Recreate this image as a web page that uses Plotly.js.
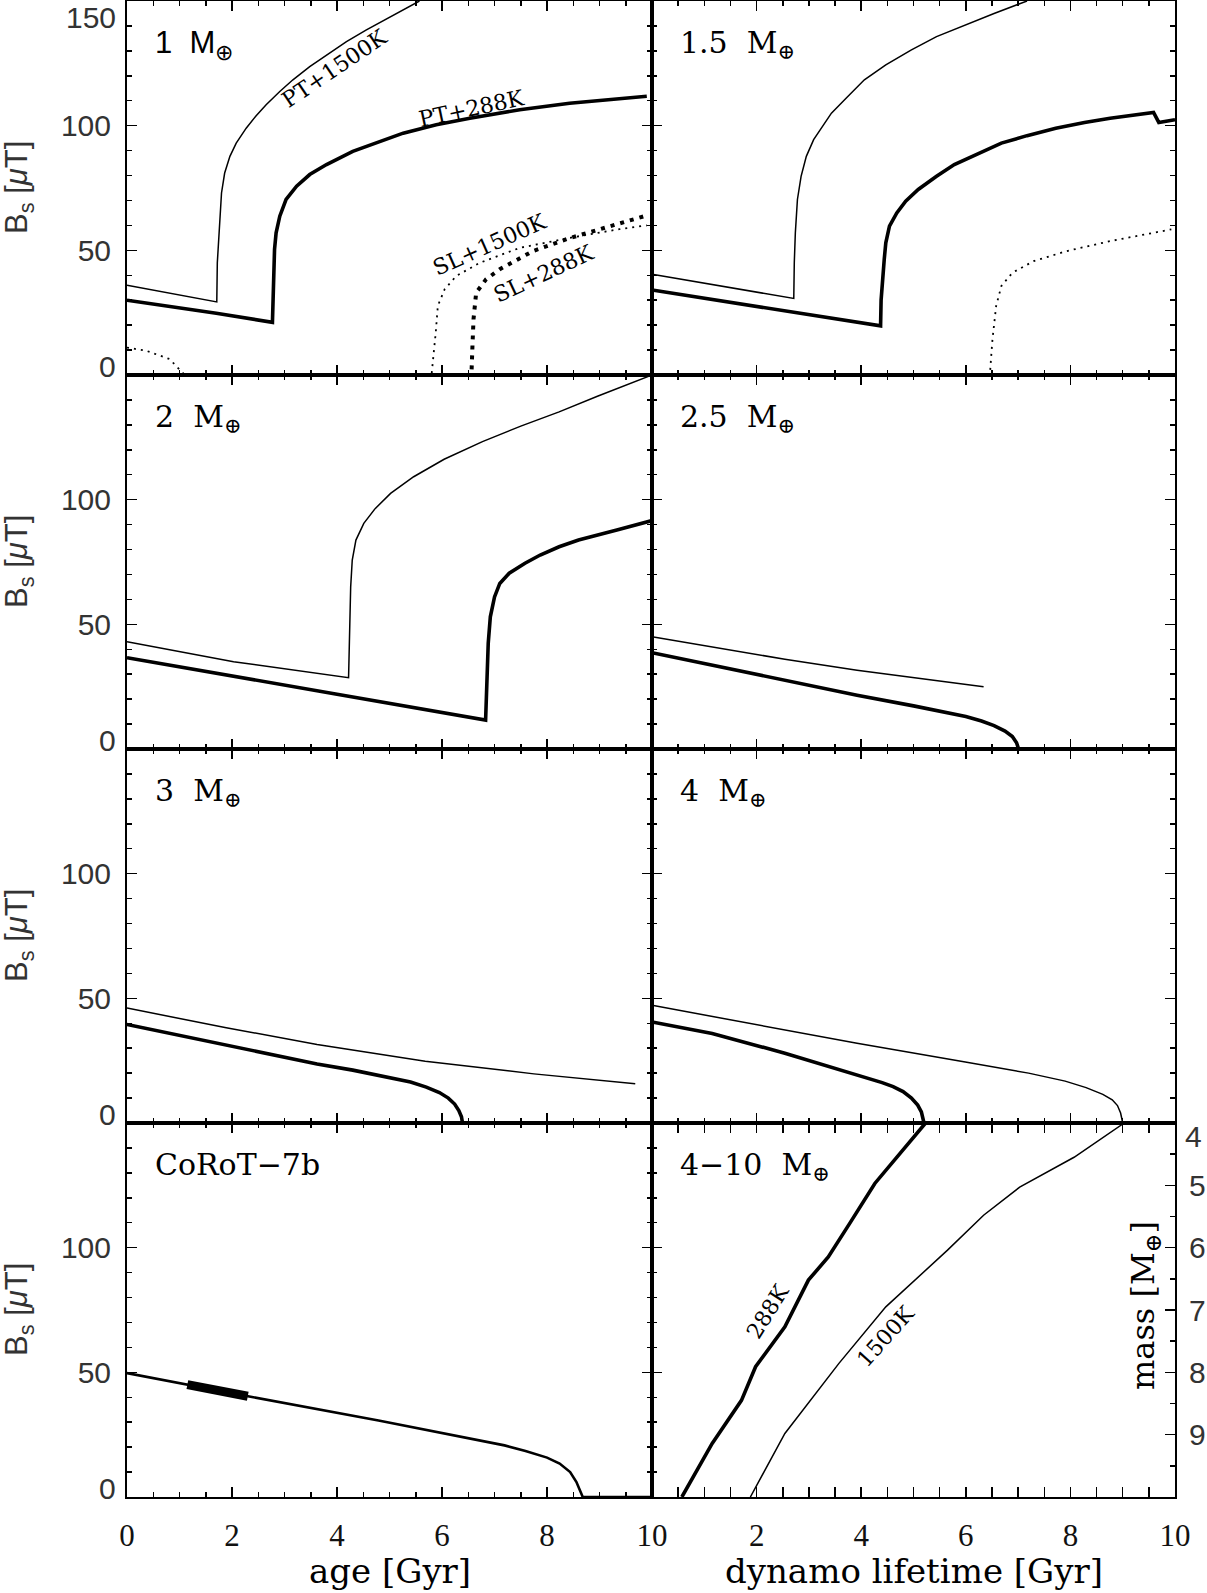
<!DOCTYPE html>
<html>
<head>
<meta charset="utf-8">
<script src="https://cdn.plot.ly/plotly-3.0.1.min.js"></script>
<style>
  html, body { margin: 0; padding: 0; background: #fff; }
  #chart { width: 1207px; height: 1593px; }
</style>
</head>
<body>
<div id="chart"></div>
<script>
// ---- values (age in Gyr, B_s in microtesla) ----

// 1 Earth mass
const m1Pt1500Age = [0, 1.71, 1.72, 1.75, 1.77, 1.80, 1.86, 1.96, 2.08, 2.27, 2.46, 2.65, 2.91, 3.16, 3.48, 3.80, 4.18, 4.56, 5.07, 5.57];
const m1Pt1500Bs  = [36, 29.3, 45, 57, 65, 73, 81, 87.7, 93, 99, 104, 108.4, 113.7, 118.4, 123.7, 128.4, 133.7, 138.4, 144.4, 150];
const m1Pt288Age  = [0, 1.70, 2.77, 2.78, 2.79, 2.81, 2.84, 2.91, 3.03, 3.23, 3.48, 3.80, 4.30, 4.81, 5.26, 5.89, 6.53, 7.48, 8.43, 9.9];
const m1Pt288Bs   = [30, 24.8, 21.1, 33, 43.7, 50.4, 57, 63.7, 70.4, 75.7, 80.4, 84.4, 89.7, 93.7, 97, 100.4, 103, 106.4, 109, 111.8];
const m1Sl1500Age = [0, 0.37, 0.81, 0.97, 1.1, 5.8, 5.84, 5.88, 5.92, 6.05, 6.27, 6.72, 7.48, 8.43, 9.38, 9.9];
const m1Sl1500Bs  = [11, 9.7, 6.4, 3, 0, 0, 8, 17, 27.7, 34.4, 39.7, 45, 51, 55, 58.5, 60];
const m1Sl288Age  = [0, 6.56, 6.58, 6.60, 6.65, 6.84, 7.1, 7.73, 8.43, 9.07, 9.70, 9.9];
const m1Sl288Bs   = [0, 0, 12, 22.4, 33, 38.4, 42.4, 49.7, 54.9, 58.8, 63, 64];

// 1.5 Earth masses
const m15Pt1500Age = [0, 2.71, 2.72, 2.74, 2.78, 2.85, 2.95, 3.09, 3.26, 3.43, 3.71, 4.06, 4.47, 4.96, 5.44, 5.99, 6.54, 7.17];
const m15Pt1500Bs  = [40.4, 30.7, 45, 57, 70.4, 79.7, 87.7, 94.4, 99.7, 105, 111, 118.4, 124.4, 130.4, 135.7, 140.4, 145, 150];
const m15Pt288Age  = [0, 2.67, 4.37, 4.38, 4.40, 4.44, 4.47, 4.54, 4.68, 4.85, 5.09, 5.44, 5.78, 6.2, 6.68, 7.17, 7.72, 8.27, 8.76, 9.59, 9.69, 10];
const m15Pt288Bs   = [34.1, 25.1, 19.7, 30, 37, 46.4, 53, 59.7, 65, 69.7, 74.4, 79.7, 84.4, 88.4, 93, 96, 99, 101.3, 103, 105.3, 101.3, 102.4];
const m15Sl1500Age = [0, 6.46, 6.48, 6.51, 6.58, 6.68, 6.89, 7.3, 7.93, 8.76, 9.93];
const m15Sl1500Bs  = [0, 0, 6, 14.4, 27.7, 35.7, 41, 45.7, 49.7, 53.7, 58.4];

// 2 Earth masses
const m2Pt1500Age = [0, 2.03, 4.22, 4.24, 4.26, 4.29, 4.36, 4.51, 4.73, 5.02, 5.46, 6.04, 6.77, 7.50, 8.23, 8.96, 10];
const m2Pt1500Bs  = [43, 35, 28.6, 50, 65, 75.8, 83.8, 90.5, 96.5, 102.5, 109.2, 116.2, 123.3, 129.5, 135.2, 141.5, 150];
const m2Pt288Age  = [0, 2.0, 4.0, 6.83, 6.85, 6.88, 6.92, 7.0, 7.1, 7.28, 7.58, 7.87, 8.23, 8.6, 9.33, 10];
const m2Pt288Bs   = [36.6, 29.4, 22.0, 11.6, 30, 42.4, 53, 61, 66.4, 70.5, 74.5, 77.8, 81.1, 83.8, 87.8, 91.6];

// 2.5 Earth masses
const m25Pt1500Age = [0, 1.15, 2.54, 3.92, 5.30, 6.34];
const m25Pt1500Bs  = [45, 40.8, 36.0, 31.6, 27.7, 25.0];
const m25Pt288Age  = [0, 1.15, 2.54, 3.92, 5.0, 5.6, 6.0, 6.3, 6.54, 6.75, 6.89, 6.97, 7.01, 8.93];
const m25Pt288Bs   = [38.6, 33.6, 27.5, 21.6, 17.3, 14.9, 13.0, 11.2, 9.4, 7.2, 5, 2.5, 0, 0];

// 3 Earth masses
const m3Pt1500Age = [0, 1.89, 3.62, 5.68, 7.75, 9.68];
const m3Pt1500Bs  = [46.1, 38.2, 31.5, 24.8, 19.7, 15.7];
const m3Pt288Age  = [0, 1.89, 3.62, 4.3, 5.0, 5.4, 5.7, 5.95, 6.12, 6.24, 6.32, 6.37, 6.39, 10];
const m3Pt288Bs   = [39.5, 31.1, 23.7, 21.2, 18.3, 16.4, 14.4, 12.2, 10.0, 7.6, 5, 2.5, 0, 0];

// 4 Earth masses
const m4Pt1500Age = [0, 1.85, 3.92, 5.99, 7.2, 7.9, 8.3, 8.62, 8.80, 8.90, 8.96, 9.0, 10];
const m4Pt1500Bs  = [47.2, 40.0, 32.0, 24.5, 20.0, 16.8, 14.2, 11.5, 9.3, 7.0, 4, 0, 0];
const m4Pt288Age  = [0, 1.15, 2.54, 3.92, 4.4, 4.61, 4.80, 4.96, 5.08, 5.15, 5.2, 10];
const m4Pt288Bs   = [40.5, 35.9, 28.0, 19.5, 16.2, 14.6, 12.6, 10.0, 7.2, 4.5, 0, 0];

// CoRoT-7b, with the estimated present-age span
const corotAge    = [0, 2.38, 4.79, 7.19, 7.59, 8.0, 8.24, 8.44, 8.56, 8.68, 10];
const corotBs     = [49.7, 40.1, 30.7, 20.7, 18.4, 15.8, 13.4, 10, 6, 0, 0];
const corotNowAge = [1.15, 2.3];
const corotNowBs  = [45.1, 40.4];

// dynamo lifetime vs planet mass, 4-10 Earth masses
const life288   = [5.23, 4.75, 4.26, 3.78, 3.37, 2.99, 2.54, 1.98, 1.71, 1.15, 0.57];
const mass288   = [4.0, 4.49, 4.97, 5.61, 6.15, 6.52, 7.27, 7.91, 8.45, 9.14, 10.0];
const life1500  = [9.03, 8.07, 7.03, 6.34, 5.65, 5.02, 4.47, 3.57, 2.54, 1.88];
const mass1500  = [4.0, 4.55, 5.03, 5.48, 6.04, 6.52, 6.95, 7.86, 8.98, 10.0];

// tick labels
const ageTicksLeft  = [0, 2, 4, 6, 8, 10];
const ageTicksRight = [2, 4, 6, 8, 10];
const bsTicks       = [50, 100];
const massTicks     = [5, 6, 7, 8, 9];

const panelNames = ['1\u00a0\u00a0M<sub>⊕</sub>', '1.5\u00a0\u00a0M<sub>⊕</sub>', '2\u00a0\u00a0M<sub>⊕</sub>',
  '2.5\u00a0\u00a0M<sub>⊕</sub>', '3\u00a0\u00a0M<sub>⊕</sub>', '4\u00a0\u00a0M<sub>⊕</sub>',
  'CoRoT\u22127b', '4\u221210\u00a0\u00a0M<sub>⊕</sub>'];

// ---- page geometry ----
const W = 1207, H = 1593;
const M = { l: 127, r: 32, t: 1, b: 96 };
const PW = W - M.l - M.r, PH = H - M.t - M.b;
const px2x = px => (px - M.l) / PW;
const px2y = py => (H - M.b - py) / PH;
const colDom = [[0, 0.501], [0.501, 1]];
const rowDom = [[0.75, 1], [0.5, 0.75], [0.25, 0.5], [0, 0.25]];

const THIN = 1.5, THICK = 3.6;
const traces = [];
function addLine(panel, xs, ys, width, dash, yax) {
  traces.push({
    x: xs, y: ys, type: 'scatter', mode: 'lines',
    xaxis: panel === 1 ? 'x' : 'x' + panel,
    yaxis: yax || (panel === 1 ? 'y' : 'y' + panel),
    line: { color: '#000', width: width, dash: dash || 'solid' },
    hoverinfo: 'skip', showlegend: false
  });
}

addLine(1, m1Pt1500Age, m1Pt1500Bs, THIN);
addLine(1, m1Pt288Age, m1Pt288Bs, THICK);
addLine(1, m1Sl1500Age, m1Sl1500Bs, 1.8, '2px,5px');
addLine(1, m1Sl288Age, m1Sl288Bs, 4, '4px,6px');
addLine(2, m15Pt1500Age, m15Pt1500Bs, THIN);
addLine(2, m15Pt288Age, m15Pt288Bs, THICK);
addLine(2, m15Sl1500Age, m15Sl1500Bs, 1.8, '2px,5px');
addLine(3, m2Pt1500Age, m2Pt1500Bs, THIN);
addLine(3, m2Pt288Age, m2Pt288Bs, THICK);
addLine(4, m25Pt1500Age, m25Pt1500Bs, THIN);
addLine(4, m25Pt288Age, m25Pt288Bs, THICK);
addLine(5, m3Pt1500Age, m3Pt1500Bs, THIN);
addLine(5, m3Pt288Age, m3Pt288Bs, THICK);
addLine(6, m4Pt1500Age, m4Pt1500Bs, THIN);
addLine(6, m4Pt288Age, m4Pt288Bs, THICK);
addLine(7, corotAge, corotBs, 2.6);
addLine(7, corotNowAge, corotNowBs, 9);
// last panel: y8 is the mass axis, y9 only carries the B_s-style ticks on its left edge
addLine(8, life288, mass288, THICK);
addLine(8, life1500, mass1500, THIN);
addLine(8, [], [], THIN, null, 'y9');

const yTickFont = { family: 'Liberation Sans, Arial, sans-serif', size: 30, color: '#333' };
const xTickFont = { family: 'Liberation Serif, serif', size: 31, color: '#111' };

function baseAxis() {
  return {
    showline: true, linecolor: '#000', linewidth: 2,
    mirror: 'allticks', ticks: 'inside', ticklen: 10, tickwidth: 1.5, tickcolor: '#000',
    showgrid: false, zeroline: false, fixedrange: true,
    minor: { ticks: 'inside', ticklen: 5, tickwidth: 1.5, tickcolor: '#000', showgrid: false, tickmode: 'linear' }
  };
}

const layout = {
  width: W, height: H, margin: M,
  paper_bgcolor: '#fff', plot_bgcolor: 'rgba(0,0,0,0)',
  showlegend: false, annotations: []
};

for (let p = 1; p <= 8; p++) {
  const col = (p - 1) % 2, row = Math.floor((p - 1) / 2);
  const xa = baseAxis(), ya = baseAxis();
  const n = p === 1 ? '' : p;
  const ticks = col === 0 ? ageTicksLeft : ageTicksRight;

  Object.assign(xa, {
    domain: colDom[col], range: [0, 10], anchor: 'y' + n,
    tickmode: 'array', tickvals: ticks, ticktext: ticks.map(String),
    showticklabels: row === 3, tickfont: xTickFont, ticklabelstandoff: 10
  });
  xa.minor.tick0 = 0; xa.minor.dtick = 0.5;
  layout['xaxis' + n] = xa;

  if (p < 8) {
    Object.assign(ya, {
      domain: rowDom[row], range: [0, 150], anchor: 'x' + n,
      tickmode: 'array', tickvals: bsTicks, ticktext: bsTicks.map(String),
      showticklabels: col === 0, tickfont: yTickFont, ticklabelstandoff: 8
    });
    ya.minor.tick0 = 0; ya.minor.dtick = 10;
  } else {
    // mass axis, on the right side
    Object.assign(ya, {
      domain: rowDom[row], side: 'right', anchor: 'x8', range: [10, 4], mirror: false,
      tickmode: 'array', tickvals: massTicks, ticktext: massTicks.map(String),
      tickfont: yTickFont, ticklabelstandoff: 6
    });
    ya.minor.tick0 = 4; ya.minor.dtick = 0.5;
  }
  layout['yaxis' + n] = ya;

  // panel name
  const serif = p !== 1;
  layout.annotations.push({
    xref: 'paper', yref: 'paper',
    x: colDom[col][0] + 26 / PW, y: rowDom[row][1] - 22 / PH,
    xanchor: 'left', yanchor: 'top', showarrow: false,
    text: panelNames[p - 1],
    font: serif ? { family: 'DejaVu Serif, serif', size: 30, color: '#000' }
                : { family: 'Liberation Sans, Arial, sans-serif', size: 31, color: '#000' }
  });

  if (col === 0) {
    // end labels of the B_s axis sit slightly inside the box
    layout.annotations.push({
      xref: 'paper', yref: 'y' + n, x: 0, y: 0, xanchor: 'right', yanchor: 'middle',
      xshift: -9, yshift: 9, showarrow: false, text: '0', font: yTickFont
    });
    if (row === 0) {
      layout.annotations.push({
        xref: 'paper', yref: 'y' + n, x: 0, y: 150, xanchor: 'right', yanchor: 'middle',
        xshift: -9, yshift: -16, showarrow: false, text: '150', font: yTickFont
      });
    }
    layout.annotations.push({
      xref: 'paper', yref: 'paper', x: px2x(19), y: (rowDom[row][0] + rowDom[row][1]) / 2,
      xanchor: 'center', yanchor: 'middle', textangle: -90, showarrow: false,
      text: 'B<sub>s</sub> [<i>μ</i>T]',
      font: { family: 'Liberation Sans, Arial, sans-serif', size: 31, color: '#333' }
    });
  }
}

// B_s-style ticks on the left edge of the last panel
const ba = baseAxis();
Object.assign(ba, {
  domain: rowDom[3], side: 'left', anchor: 'x8', range: [0, 150], mirror: false,
  tickmode: 'array', tickvals: bsTicks, showticklabels: false
});
ba.minor.tick0 = 0; ba.minor.dtick = 10;
layout.yaxis9 = ba;

const serifLab = { family: 'DejaVu Serif, serif', size: 22, color: '#000' };
const serifTitle = { family: 'DejaVu Serif, serif', size: 34, color: '#000' };
const mid = { xanchor: 'center', yanchor: 'middle', showarrow: false };

layout.annotations.push(
  { xref: 'paper', yref: 'y8', x: 1, y: 4, xanchor: 'left', yanchor: 'middle', xshift: 8, yshift: -13,
    showarrow: false, text: '4', font: yTickFont },
  Object.assign({ xref: 'paper', yref: 'paper', x: px2x(1145), y: px2y(1306), textangle: -90,
    text: 'mass [M<sub>⊕</sub>]', font: { family: 'DejaVu Serif, serif', size: 32, color: '#000' } }, mid),
  Object.assign({ xref: 'paper', yref: 'paper', x: px2x(389.5), y: px2y(1571),
    text: 'age [Gyr]', font: serifTitle }, mid),
  Object.assign({ xref: 'paper', yref: 'paper', x: px2x(913.5), y: px2y(1571),
    text: 'dynamo lifetime [Gyr]', font: serifTitle }, mid),
  // curve labels
  Object.assign({ xref: 'x', yref: 'y', x: 3.95, y: 123, textangle: -34, text: 'PT+1500K', font: serifLab }, mid),
  Object.assign({ xref: 'x', yref: 'y', x: 6.57, y: 107, textangle: -12, text: 'PT+288K', font: serifLab }, mid),
  Object.assign({ xref: 'x', yref: 'y', x: 6.91, y: 52.4, textangle: -24, text: 'SL+1500K', font: serifLab }, mid),
  Object.assign({ xref: 'x', yref: 'y', x: 7.94, y: 40.8, textangle: -25, text: 'SL+288K', font: serifLab }, mid),
  Object.assign({ xref: 'x8', yref: 'y8', x: 2.21, y: 7.02, textangle: -58, text: '288K', font: serifLab }, mid),
  Object.assign({ xref: 'x8', yref: 'y8', x: 4.46, y: 7.42, textangle: -48, text: '1500K', font: serifLab }, mid)
);

Plotly.newPlot('chart', traces, layout, { staticPlot: true, displayModeBar: false });
</script>
</body>
</html>
